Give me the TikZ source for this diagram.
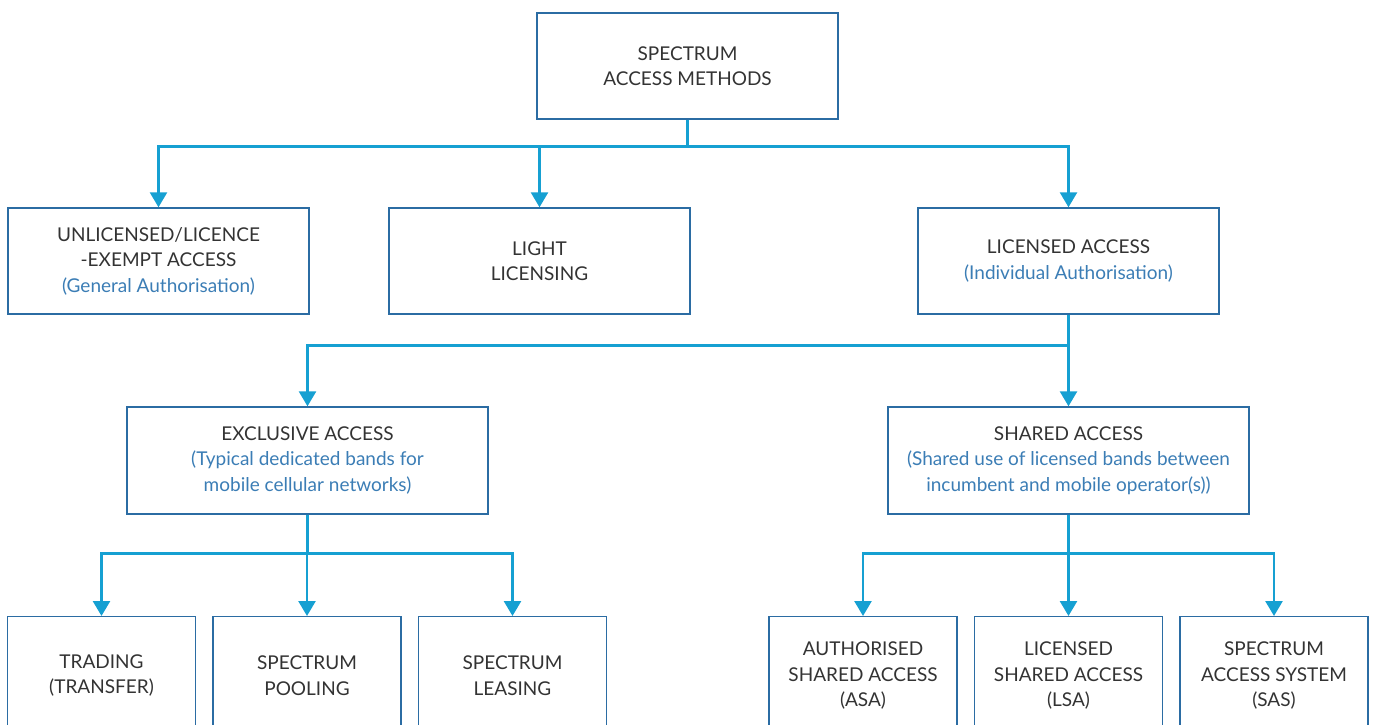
\documentclass[tikz,border=0pt]{standalone}
\usepackage{fontspec}
\setmainfont{Lato}
\usetikzlibrary{arrows.meta,positioning}

\definecolor{boxblue}{HTML}{2B6CA3}
\definecolor{lineblue}{HTML}{16A0D2}
\definecolor{noteblue}{HTML}{3B7DB5}
\definecolor{textgrey}{HTML}{333333}

\newcommand{\note}[1]{\textcolor{noteblue}{#1}}

\begin{document}
\begin{tikzpicture}[x=1pt,y=-1pt,
	box/.style={draw=boxblue,line width=1.4pt,align=center,inner sep=0pt,
		text=textgrey,font=\fontsize{19}{25.5}\selectfont},
	wide/.style={box,minimum width=301pt,minimum height=106pt},
	wider/.style={box,minimum width=361pt,minimum height=107pt},
	leaf/.style={box,minimum width=188pt,minimum height=118pt,anchor=north},
	conn/.style={draw=lineblue,line width=2.6pt,-{Triangle[width=17pt,length=15pt]}}]
	
	\useasboundingbox (0,0) rectangle (1373,725);
	\clip (0,0) rectangle (1373,725);
	
	%%%%%%%%%%%%%%%%%%%%%%%%%%%%%%%%%%%%%%%%%%%%%%%%%%%%%%
	
	\node [wide] (methods) at (687.5,66) {SPECTRUM\\ACCESS METHODS};
	
	\node [wide] (unlicensed) at (158.5,261) {UNLICENSED/LICENCE\\-EXEMPT ACCESS\\\note{(General Authorisation)}};
	\node [wide] (light) at (539.5,261) {LIGHT\\LICENSING};
	\node [wide] (licensed) at (1068.5,261) {LICENSED ACCESS\\\note{(Individual Authorisation)}};
	
	%%%%%%%%%%%%%%%%%%%%%%%%%%%%%%%%%%%%%%%%%%%%%%%%%%%%%%
	
	\node [wider] (exclusive) at (307.5,460.5) {EXCLUSIVE ACCESS\\\note{(Typical dedicated bands for}\\\note{mobile cellular networks)}};
	\node [wider] (shared) at (1068.5,460.5) {SHARED ACCESS\\\note{(Shared use of licensed bands between}\\\note{incumbent and mobile operator(s))}};
	
	%%%%%%%%%%%%%%%%%%%%%%%%%%%%%%%%%%%%%%%%%%%%%%%%%%%%%%
	
	\node [leaf] (trading) at (101.5,616) {TRADING\\(TRANSFER)};
	\node [leaf] (pooling) at (307,616) {SPECTRUM\\POOLING};
	\node [leaf] (leasing) at (512.5,616) {SPECTRUM\\LEASING};
	
	\node [leaf] (asa) at (863,616) {AUTHORISED\\SHARED ACCESS\\(ASA)};
	\node [leaf] (lsa) at (1068.5,616) {LICENSED\\SHARED ACCESS\\(LSA)};
	\node [leaf] (sas) at (1274,616) {SPECTRUM\\ACCESS SYSTEM\\(SAS)};
	
	%%%%%%%%%%%%%%%%%%%%%%%%%%%%%%%%%%%%%%%%%%%%%%%%%%%%%%
	
	\draw [conn] (methods.south) -- ++(0,27) -| (unlicensed.north);
	\draw [conn] (methods.south) -- ++(0,27) -| (light.north);
	\draw [conn] (methods.south) -- ++(0,27) -| (licensed.north);
	
	\draw [conn] (licensed.south) -- ++(0,31) -| (exclusive.north);
	\draw [conn] (licensed.south) -- (shared.north);
	
	\draw [conn] (exclusive.south) -- ++(0,39) -| (trading.north);
	\draw [conn] (exclusive.south) -- ++(0,39) -| (pooling.north);
	\draw [conn] (exclusive.south) -- ++(0,39) -| (leasing.north);
	
	\draw [conn] (shared.south) -- ++(0,39) -| (asa.north);
	\draw [conn] (shared.south) -- ++(0,39) -| (lsa.north);
	\draw [conn] (shared.south) -- ++(0,39) -| (sas.north);
	
\end{tikzpicture}
\end{document}
